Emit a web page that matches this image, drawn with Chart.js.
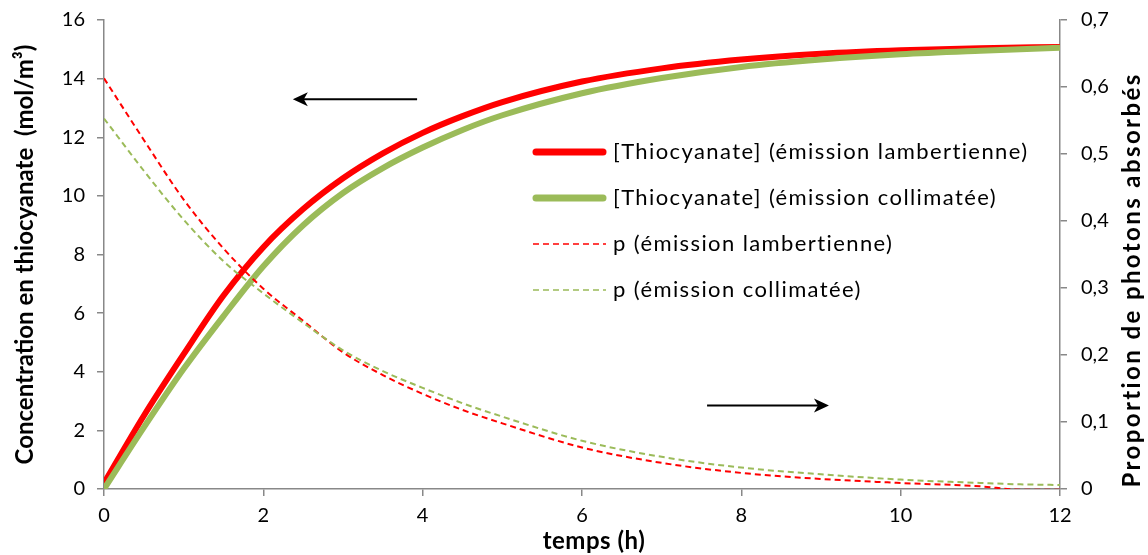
<!DOCTYPE html>
<html>
<head>
<meta charset="utf-8">
<script src="https://cdn.jsdelivr.net/npm/chart.js@4.4.1/dist/chart.umd.min.js"></script>
<style>
  html, body { margin: 0; padding: 0; background: #fff; }
  canvas { display: block; }
</style>
</head>
<body>
<canvas id="chart" width="1148" height="555"></canvas>
<script>
// time (h)
const TIMES = [0, 0.5, 1, 1.5, 2, 2.5, 3, 3.5, 4, 4.5, 5, 6, 7, 8, 9, 10, 11, 11.5, 12];

// [Thiocyanate] mol/m3 (left axis)
const THIO_LAMB = [0.2, 2.5, 4.6, 6.6, 8.25, 9.55, 10.6, 11.45, 12.15, 12.72, 13.2, 13.9, 14.35, 14.65, 14.85, 14.97, 15.04, 15.06, 15.08];
const THIO_COLL = [0, 2.1, 4.1, 5.9, 7.6, 9.0, 10.1, 10.95, 11.65, 12.25, 12.75, 13.5, 14.02, 14.4, 14.65, 14.83, 14.95, 15.0, 15.05];

// proportion of absorbed photons (right axis)
const P_LAMB = [0.613, 0.521, 0.432, 0.359, 0.299, 0.251, 0.204, 0.170, 0.142, 0.118, 0.098, 0.062, 0.039, 0.024, 0.015, 0.009, 0.004, -0.001, -0.001];
const P_COLL = [0.553, 0.475, 0.402, 0.340, 0.292, 0.248, 0.207, 0.176, 0.151, 0.128, 0.108, 0.072, 0.048, 0.032, 0.022, 0.014, 0.009, 0.007, 0.006];

const LABELS = [
  '[Thiocyanate] (émission lambertienne)',
  '[Thiocyanate] (émission collimatée)',
  'p (émission lambertienne)',
  'p (émission collimatée)'
];

// arrows in data units of x / left axis: [xFrom, xTo(tip), y]
const ARROW_LEFT = [3.93, 2.37, 13.3];
const ARROW_RIGHT = [7.57, 9.1, 2.85];

const RED = '#FF0000';
const GREEN = '#9BBB59';
const AXIS = '#888888';
const FONT = 'Lato, "Open Sans", sans-serif';

function pts(ys) {
  return TIMES.map((t, i) => ({ x: t, y: ys[i] }));
}

const legendPlugin = {
  id: 'insideLegend',
  afterDraw(chart) {
    const ctx = chart.ctx;
    const x0 = 533, x1 = 606, tx = 613;
    const y0 = 152, dy = 46;
    ctx.save();
    chart.data.datasets.forEach((ds, i) => {
      const y = y0 + i * dy;
      ctx.beginPath();
      ctx.strokeStyle = ds.borderColor;
      ctx.lineWidth = ds.legendWidth;
      ctx.lineCap = ds.borderDash ? 'butt' : 'round';
      ctx.setLineDash(ds.borderDash || []);
      ctx.moveTo(x0 + (ds.borderDash ? 0 : 3), y);
      ctx.lineTo(x1 - (ds.borderDash ? 0 : 3), y);
      ctx.stroke();
      ctx.setLineDash([]);
      ctx.fillStyle = '#000';
      ctx.font = '22px ' + FONT;
      ctx.letterSpacing = '1.4px';
      ctx.textBaseline = 'middle';
      ctx.textAlign = 'left';
      ctx.fillText(ds.label, tx, y);
      ctx.letterSpacing = '0px';
    });
    ctx.restore();
  }
};

function rotatedText(ctx, text, x, y, spacing) {
  ctx.save();
  ctx.translate(x, y);
  ctx.rotate(-Math.PI / 2);
  ctx.letterSpacing = spacing;
  ctx.fillText(text, 0, 0);
  ctx.restore();
}

const extrasPlugin = {
  id: 'extras',
  afterDraw(chart) {
    const ctx = chart.ctx;
    const xs = chart.scales.x, ys = chart.scales.y;
    const area = chart.chartArea;

    function arrow(a) {
      const xa = xs.getPixelForValue(a[0]);
      const xb = xs.getPixelForValue(a[1]);
      const y = ys.getPixelForValue(a[2]);
      const dir = xb > xa ? 1 : -1;
      ctx.beginPath();
      ctx.strokeStyle = '#000';
      ctx.lineWidth = 2;
      ctx.moveTo(xa, y);
      ctx.lineTo(xb - dir * 6, y);
      ctx.stroke();
      ctx.beginPath();
      ctx.fillStyle = '#000';
      ctx.moveTo(xb, y);
      ctx.lineTo(xb - dir * 15, y - 7);
      ctx.lineTo(xb - dir * 11, y);
      ctx.lineTo(xb - dir * 15, y + 7);
      ctx.closePath();
      ctx.fill();
    }

    ctx.save();
    arrow(ARROW_LEFT);
    arrow(ARROW_RIGHT);

    // axis titles
    ctx.fillStyle = '#000';
    ctx.font = 'bold 24px ' + FONT;
    ctx.textAlign = 'center';
    ctx.textBaseline = 'middle';
    rotatedText(ctx, 'Concentration en thiocyanate  (mol/m³)', 25, (area.top + area.bottom) / 2, '0px');
    rotatedText(ctx, 'Proportion de photons absorbés', 1132, 280, '2.4px');
    ctx.letterSpacing = '0.5px';
    ctx.fillText('temps (h)', 594, 541);
    ctx.letterSpacing = '0px';
    ctx.restore();
  }
};

const tickFont = { family: FONT, size: 20 };

function noPadV(scale) { scale.paddingTop = 0; scale.paddingBottom = 0; }

new Chart(document.getElementById('chart'), {
  type: 'line',
  data: {
    datasets: [
      {
        label: LABELS[0],
        data: pts(THIO_LAMB),
        yAxisID: 'y',
        borderColor: RED,
        borderWidth: 6,
        legendWidth: 7,
        order: 4
      },
      {
        label: LABELS[1],
        data: pts(THIO_COLL),
        yAxisID: 'y',
        borderColor: GREEN,
        borderWidth: 6,
        legendWidth: 7,
        order: 3
      },
      {
        label: LABELS[2],
        data: pts(P_LAMB),
        yAxisID: 'y1',
        borderColor: RED,
        borderWidth: 2,
        borderDash: [6, 4],
        legendWidth: 1.5,
        order: 2
      },
      {
        label: LABELS[3],
        data: pts(P_COLL),
        yAxisID: 'y1',
        borderColor: GREEN,
        borderWidth: 2,
        borderDash: [6, 4],
        legendWidth: 1.5,
        order: 1
      }
    ]
  },
  options: {
    responsive: false,
    animation: false,
    devicePixelRatio: 1,
    layout: { padding: { top: 20, left: 0, right: 0, bottom: 0 } },
    elements: {
      point: { radius: 0, hoverRadius: 0 },
      line: { cubicInterpolationMode: 'monotone', fill: false, borderCapStyle: 'butt' }
    },
    plugins: {
      legend: { display: false },
      tooltip: { enabled: false }
    },
    scales: {
      x: {
        type: 'linear',
        min: 0,
        max: 12,
        ticks: { stepSize: 2, color: '#000', font: tickFont, padding: 8, maxRotation: 0 },
        grid: { drawOnChartArea: false, drawTicks: true, tickLength: 7, color: AXIS, lineWidth: 1.5 },
        border: { color: AXIS, width: 1.5 },
        afterFit(scale) { scale.height = 66; scale.paddingLeft = 0; scale.paddingRight = 0; }
      },
      y: {
        position: 'left',
        min: 0,
        max: 16,
        ticks: { stepSize: 2, color: '#000', font: tickFont, padding: 12 },
        grid: { drawOnChartArea: false, drawTicks: true, tickLength: 7, color: AXIS, lineWidth: 1.5 },
        border: { color: AXIS, width: 1.5 },
        afterFit(scale) { scale.width = 104; noPadV(scale); }
      },
      y1: {
        position: 'right',
        min: 0,
        max: 0.7,
        ticks: {
          stepSize: 0.1,
          color: '#000',
          font: tickFont,
          padding: 14,
          callback: v => (v === 0 ? '0' : v.toFixed(1).replace('.', ','))
        },
        grid: { drawOnChartArea: false, drawTicks: true, tickLength: 7, color: AXIS, lineWidth: 1.5 },
        border: { color: AXIS, width: 1.5 },
        afterFit(scale) { scale.width = 88; noPadV(scale); }
      }
    }
  },
  plugins: [legendPlugin, extrasPlugin]
});
</script>
</body>
</html>
